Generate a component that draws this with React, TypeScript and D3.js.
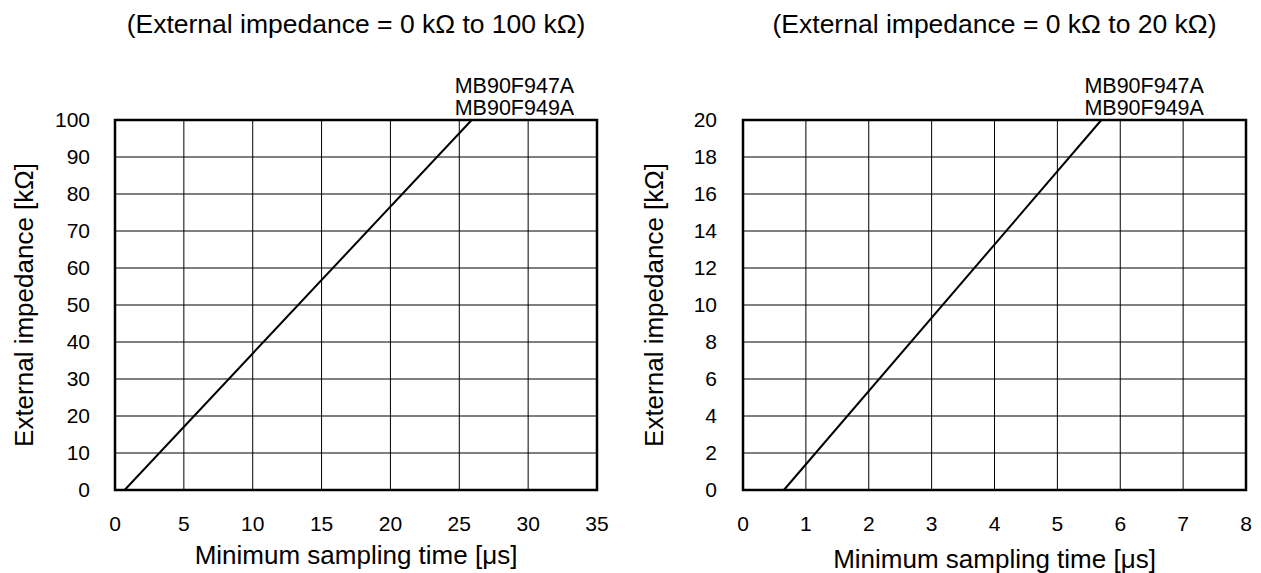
import React from "react";
import * as d3 from "d3";

const leftXTicks = [0, 5, 10, 15, 20, 25, 30, 35];
const leftYTicks = [0, 10, 20, 30, 40, 50, 60, 70, 80, 90, 100];
const leftLineX = [0.7, 25.9];
const leftLineY = [0, 100];

const rightXTicks = [0, 1, 2, 3, 4, 5, 6, 7, 8];
const rightYTicks = [0, 2, 4, 6, 8, 10, 12, 14, 16, 18, 20];
const rightLineX = [0.65, 5.7];
const rightLineY = [0, 20];

const labels = ["MB90F947A", "MB90F949A"];
const FONT = "'Liberation Sans', Arial, sans-serif";

type PanelProps = {
  x0: number; x1: number; y0: number; y1: number;
  xTicks: number[]; yTicks: number[];
  lx: number[]; ly: number[];
  title: string; xTitleY: number; yTitleX: number; yLabGap: number;
};

function Panel(p: PanelProps) {
  const xs = d3.scaleLinear().domain([p.xTicks[0], p.xTicks[p.xTicks.length - 1]]).range([p.x0, p.x1]);
  const ys = d3.scaleLinear().domain([p.yTicks[0], p.yTicks[p.yTicks.length - 1]]).range([p.y1, p.y0]);
  const line = d3.line<number>().x((_, i) => xs(p.lx[i])).y((d) => ys(d));
  const endX = xs(p.lx[1]);
  const cx = (p.x0 + p.x1) / 2;
  return (
    <g fontFamily={FONT} fill="#000">
      <text x={cx} y={33} fontSize={26.5} textAnchor="middle">{p.title}</text>
      {p.xTicks.slice(1, -1).map((t) => (
        <line key={"gx" + t} x1={xs(t)} x2={xs(t)} y1={p.y0} y2={p.y1} stroke="#000" strokeWidth={1} />
      ))}
      {p.yTicks.slice(1, -1).map((t) => (
        <line key={"gy" + t} x1={p.x0} x2={p.x1} y1={ys(t)} y2={ys(t)} stroke="#000" strokeWidth={1} />
      ))}
      <rect x={p.x0} y={p.y0} width={p.x1 - p.x0} height={p.y1 - p.y0} fill="none" stroke="#000" strokeWidth={2.5} />
      <path d={line(p.ly) || ""} stroke="#000" strokeWidth={2} fill="none" />
      {p.yTicks.map((t) => (
        <text key={"ty" + t} x={p.x0 - p.yLabGap} y={ys(t)} dy="0.35em" fontSize={21} textAnchor="end">{t}</text>
      ))}
      {p.xTicks.map((t) => (
        <text key={"tx" + t} x={xs(t)} y={524} dy="0.35em" fontSize={21} textAnchor="middle">{t}</text>
      ))}
      <text x={cx} y={p.xTitleY} dy="0.35em" fontSize={26} textAnchor="middle">Minimum sampling time [μs]</text>
      <text transform={`translate(${p.yTitleX},${(p.y0 + p.y1) / 2}) rotate(-90)`} dy="0.35em" fontSize={26} textAnchor="middle">External impedance [kΩ]</text>
      {labels.map((l, i) => (
        <text key={l} x={endX - 17} y={85 + i * 22} dy="0.35em" fontSize={21.5}>{l}</text>
      ))}
    </g>
  );
}

export default function App() {
  return (
    <svg width={1261} height={573} style={{ position: "absolute", left: 0, top: 0, background: "#fff" }}>
      <Panel x0={115} x1={597} y0={120} y1={490} xTicks={leftXTicks} yTicks={leftYTicks}
        lx={leftLineX} ly={leftLineY} title="(External impedance = 0 kΩ to 100 kΩ)"
        xTitleY={555} yTitleX={24} yLabGap={25} />
      <Panel x0={743} x1={1246} y0={120} y1={490} xTicks={rightXTicks} yTicks={rightYTicks}
        lx={rightLineX} ly={rightLineY} title="(External impedance = 0 kΩ to 20 kΩ)"
        xTitleY={559} yTitleX={654} yLabGap={26} />
    </svg>
  );
}
